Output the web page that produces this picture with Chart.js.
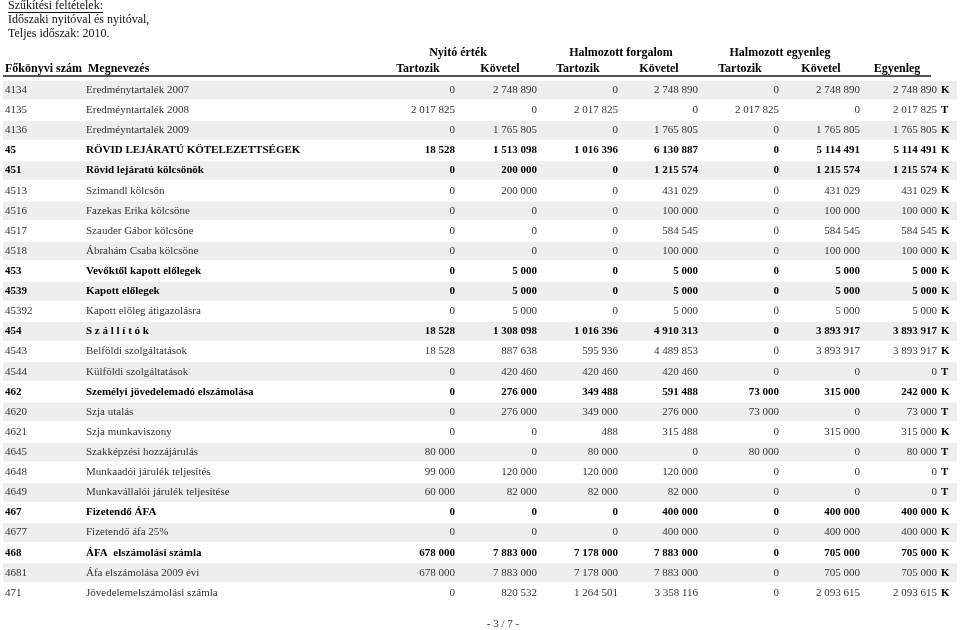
<!DOCTYPE html>
<html lang="hu">
<head>
<meta charset="utf-8">
<title>Főkönyvi kivonat</title>
<script src="https://cdn.jsdelivr.net/npm/chart.js@4/dist/chart.umd.min.js"></script>
<style>
  body { margin: 0; background: #fff; }
  #wrap { width: 960px; height: 630px; }
</style>
</head>
<body>
<div id="wrap"><canvas id="kivonat" width="960" height="630"></canvas></div>
<script>
// számlák
const codes = ['4134', '4135', '4136', '45', '451', '4513', '4516', '4517', '4518', '453', '4539', '45392', '454',
  '4543', '4544', '462', '4620', '4621', '4645', '4648', '4649', '467', '4677', '468', '4681', '471'];
const names = ['Eredménytartalék 2007', 'Eredméyntartalék 2008', 'Eredméyntartalék 2009', 'RÖVID LEJÁRATÚ KÖTELEZETTSÉGEK',
  'Rövid lejáratú kölcsönök', 'Szimandl kölcsön', 'Fazekas Erika kölcsöne', 'Szauder Gábor kölcsöne', 'Ábrahám Csaba kölcsöne',
  'Vevőktől kapott előlegek', 'Kapott előlegek', 'Kapott előleg átigazolásra', 'S z á l l í t ó k', 'Belföldi szolgáltatások',
  'Külföldi szolgáltatások', 'Személyi jövedelemadó elszámolása', 'Szja utalás', 'Szja munkaviszony', 'Szakképzési hozzájárulás',
  'Munkaadói járulék teljesítés', 'Munkavállalói járulék teljesítése', 'Fizetendő ÁFA', 'Fizetendő áfa 25%',
  'ÁFA  elszámolási számla', 'Áfa elszámolása 2009 évi', 'Jövedelemelszámolási számla'];
// összesítő (gyűjtő) számlák
const groupCodes = ['45', '451', '453', '4539', '454', '462', '467', '468'];

const nyitoTartozik = [0, 2017825, 0, 18528, 0, 0, 0, 0, 0, 0, 0, 0, 18528, 18528, 0, 0, 0, 0, 80000, 99000, 60000, 0, 0, 678000, 678000, 0];
const nyitoKovetel = [2748890, 0, 1765805, 1513098, 200000, 200000, 0, 0, 0, 5000, 5000, 5000, 1308098, 887638, 420460, 276000, 276000, 0, 0, 120000, 82000, 0, 0, 7883000, 7883000, 820532];
const forgTartozik = [0, 2017825, 0, 1016396, 0, 0, 0, 0, 0, 0, 0, 0, 1016396, 595936, 420460, 349488, 349000, 488, 80000, 120000, 82000, 0, 0, 7178000, 7178000, 1264501];
const forgKovetel = [2748890, 0, 1765805, 6130887, 1215574, 431029, 100000, 584545, 100000, 5000, 5000, 5000, 4910313, 4489853, 420460, 591488, 276000, 315488, 0, 120000, 82000, 400000, 400000, 7883000, 7883000, 3358116];
const egyTartozik = [0, 2017825, 0, 0, 0, 0, 0, 0, 0, 0, 0, 0, 0, 0, 0, 73000, 73000, 0, 80000, 0, 0, 0, 0, 0, 0, 0];
const egyKovetel = [2748890, 0, 1765805, 5114491, 1215574, 431029, 100000, 584545, 100000, 5000, 5000, 5000, 3893917, 3893917, 0, 315000, 0, 315000, 0, 0, 0, 400000, 400000, 705000, 705000, 2093615];
const egyenleg = [2748890, 2017825, 1765805, 5114491, 1215574, 431029, 100000, 584545, 100000, 5000, 5000, 5000, 3893917, 3893917, 0, 242000, 73000, 315000, 80000, 0, 0, 400000, 400000, 705000, 705000, 2093615];
const oldal = ['K', 'T', 'K', 'K', 'K', 'K', 'K', 'K', 'K', 'K', 'K', 'K', 'K', 'K', 'T', 'K', 'T', 'K', 'T', 'T', 'T', 'K', 'K', 'K', 'K', 'K'];

const filterLines = ['Szűkítési feltételek:', 'Időszaki nyitóval és nyitóval,', 'Teljes időszak: 2010.'];
const groupHeaders = ['Nyitó érték', 'Halmozott forgalom', 'Halmozott egyenleg'];
const subHeaders = ['Tartozik', 'Követel', 'Tartozik', 'Követel', 'Tartozik', 'Követel', 'Egyenleg'];
const pageLabel = '- 3 / 7 -';

const valueColumns = [nyitoTartozik, nyitoKovetel, forgTartozik, forgKovetel, egyTartozik, egyKovetel, egyenleg];

// oszlopok helye az x tengelyen
const X_MAX = 954;
const COL_CODE = 2;
const COL_NAME = 83;
const COL_RIGHT = [452, 534, 615, 695, 776, 857, 934];
const GROUP_CENTER = [455, 618, 777];
const SUB_CENTER = [415, 497, 575, 656, 737, 818, 894];

const SERIF = '"Liberation Serif", "Times New Roman", serif';

function fmt(n) {
  return String(n).replace(/\B(?=(\d{3})+(?!\d))/g, ' ');
}

const tablePlugin = {
  id: 'tablaSzoveg',
  afterDatasetsDraw(chart) {
    const { ctx, scales: { x, y } } = chart;
    ctx.save();
    ctx.textBaseline = 'middle';

    // szűkítési feltételek
    ctx.fillStyle = '#111';
    ctx.font = '12px ' + SERIF;
    ctx.textAlign = 'left';
    filterLines.forEach((t, i) => {
      ctx.fillText(t, 8, 6 + i * 14);
    });
    const w0 = ctx.measureText(filterLines[0]).width;
    ctx.fillRect(8, 12, w0, 1);

    // fejléc
    ctx.fillStyle = '#000';
    ctx.font = 'bold 12px ' + SERIF;
    ctx.textAlign = 'center';
    groupHeaders.forEach((t, i) => ctx.fillText(t, x.getPixelForValue(GROUP_CENTER[i]), 53));
    subHeaders.forEach((t, i) => ctx.fillText(t, x.getPixelForValue(SUB_CENTER[i]), 69));
    ctx.textAlign = 'left';
    ctx.fillText('Főkönyvi szám', x.getPixelForValue(COL_CODE), 69);
    ctx.fillText('Megnevezés', x.getPixelForValue(COL_NAME) + 2, 69);

    ctx.fillStyle = '#555';
    ctx.fillRect(x.getPixelForValue(0), 75, x.getPixelForValue(928) - x.getPixelForValue(0), 2);

    // sorok
    codes.forEach((code, i) => {
      const py = y.getPixelForValue(i);
      const bold = groupCodes.includes(code);
      ctx.fillStyle = bold ? '#000' : '#333';
      ctx.font = (bold ? 'bold ' : '') + '11px ' + SERIF;
      ctx.textAlign = 'left';
      ctx.fillText(code, x.getPixelForValue(COL_CODE), py);
      ctx.fillText(names[i], x.getPixelForValue(COL_NAME), py);
      ctx.textAlign = 'right';
      valueColumns.forEach((col, c) => {
        ctx.fillText(fmt(col[i]), x.getPixelForValue(COL_RIGHT[c]), py);
      });
      ctx.fillStyle = '#000';
      ctx.font = 'bold 11px ' + SERIF;
      ctx.textAlign = 'left';
      ctx.fillText(oldal[i], x.getPixelForValue(COL_RIGHT[6]) + 4, py);
    });

    // oldalszám
    ctx.fillStyle = '#333';
    ctx.font = '11px ' + SERIF;
    ctx.textAlign = 'center';
    ctx.fillText(pageLabel, 503, 624);
    ctx.restore();
  }
};

new Chart(document.getElementById('kivonat'), {
  type: 'bar',
  data: {
    labels: codes,
    datasets: [{
      // váltakozó sorháttér
      data: codes.map((_, i) => (i % 2 === 0 ? X_MAX : null)),
      backgroundColor: '#eeeeee',
      borderWidth: 0,
      barPercentage: 0.93,
      categoryPercentage: 1
    }]
  },
  options: {
    indexAxis: 'y',
    responsive: false,
    animation: false,
    layout: { padding: { top: 80, bottom: 27, left: 3, right: 3 } },
    scales: {
      x: { display: false, min: 0, max: X_MAX },
      y: { display: false, offset: true }
    },
    plugins: {
      legend: { display: false },
      tooltip: { enabled: false }
    }
  },
  plugins: [tablePlugin]
});
</script>
</body>
</html>
